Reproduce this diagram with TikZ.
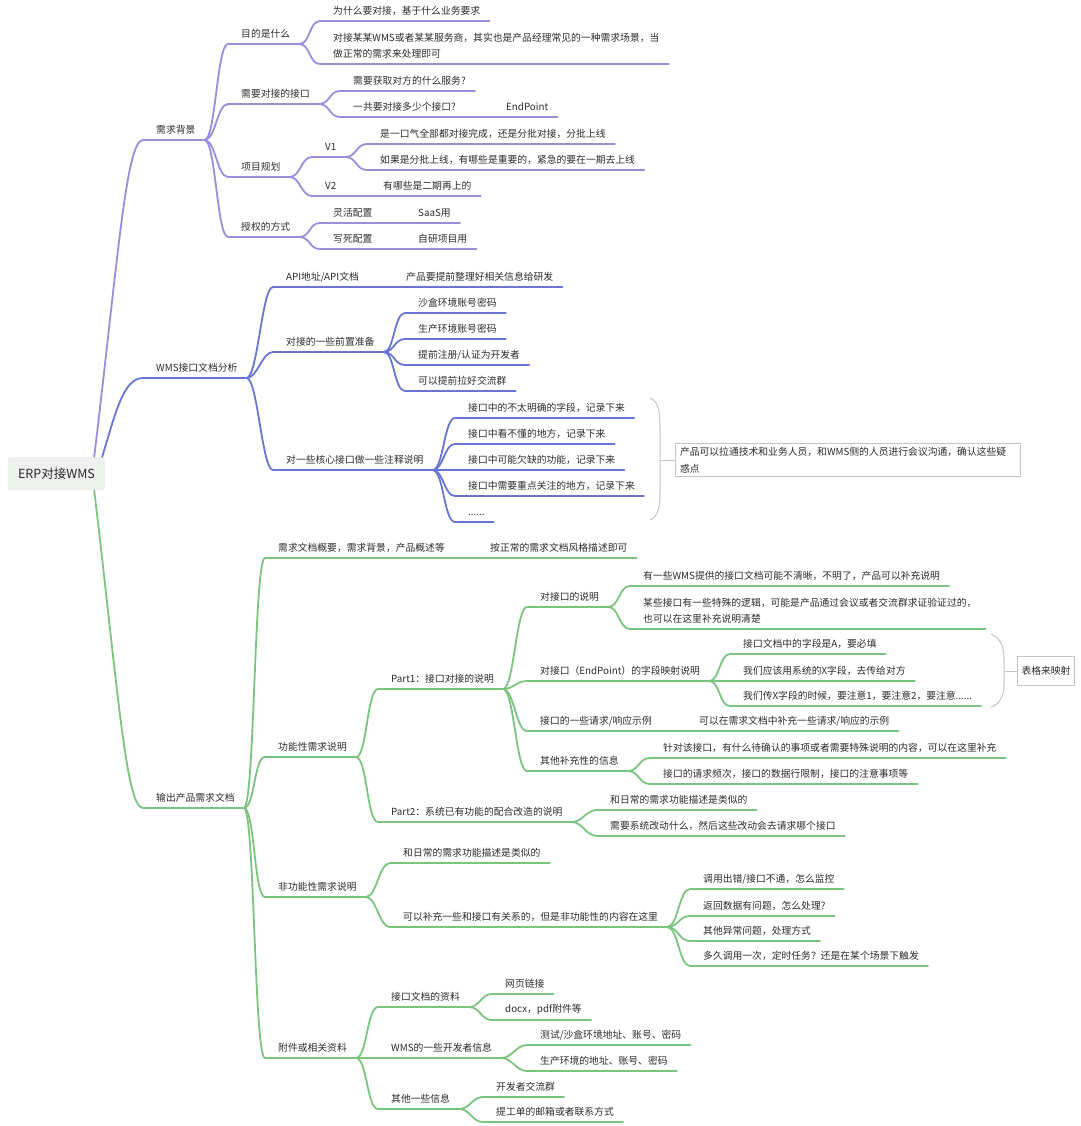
\documentclass[tikz,border=0pt]{standalone}
\usepackage{fontspec}
\setmainfont{Noto Sans CJK SC}
\definecolor{purpc}{HTML}{9B8CDC}
\definecolor{bluc}{HTML}{6676D2}
\definecolor{grnc}{HTML}{7BC47F}
\definecolor{txtc}{HTML}{2B2B2B}
\definecolor{rootc}{HTML}{EEF0EE}
\definecolor{bracec}{HTML}{C4C4C4}

\tikzset{
  purp/.style={draw=purpc, line width=1.8pt, line cap=round},
  blu/.style={draw=bluc, line width=1.8pt, line cap=round},
  grn/.style={draw=grnc, line width=1.8pt, line cap=round},
  topic/.style={anchor=south west, inner xsep=0pt, inner ysep=5pt, text=txtc,
    align=left, font=\fontsize{9.8}{16}\selectfont,
    execute at begin node=\rule[-1.2pt]{0pt}{9pt}\hspace*{13pt},
    execute at end node=\hspace*{9pt},
    append after command={(\tikzlastnode.south west) edge[#1] (\tikzlastnode.south east)}},
  link/.style={out=0, in=180, distance=11pt},
  rootbox/.style={fill=rootc, rounded corners=2pt, minimum width=97pt,
    minimum height=33pt, text=txtc, font=\fontsize{12.5}{15}\selectfont},
  note/.style={draw=bracec, fill=white, line width=0.8pt, text=txtc, align=left,
    inner xsep=5pt, font=\fontsize{9.8}{16.5}\selectfont},
  brace/.style={draw=bracec, line width=1pt},
}

\begin{document}
\begin{tikzpicture}[x=1pt,y=-1pt]
\useasboundingbox (0,0) rectangle (1080,1126);

% Mitte
\node[rootbox] (erp) at (56.5,473.5) {ERP对接WMS};

% ---- 需求背景 ----
\node[topic=purp] (bg) at (143,140) {需求背景};
\node[topic=purp] (bg1) at (228,44) {目的是什么};
\node[topic=purp] (bg11) at (320,21) {为什么要对接，基于什么业务要求};
\node[topic=purp] (bg12) at (320,64) {对接某某WMS或者某某服务商，其实也是产品经理常见的一种需求场景，当\\做正常的需求来处理即可};
\node[topic=purp] (bg2) at (228,104) {需要对接的接口};
\node[topic=purp] (bg21) at (340,91) {需要获取对方的什么服务?};
\node[topic=purp] (bg22) at (340,117) {\makebox[153pt][l]{一共要对接多少个接口?}EndPoint};
\node[topic=purp] (bg3) at (228,177) {项目规划};
\node[topic=purp] (bg31) at (312,157) {V1};
\node[topic=purp] (bg311) at (367,144) {是一口气全部都对接完成，还是分批对接，分批上线};
\node[topic=purp] (bg312) at (367,170) {如果是分批上线，有哪些是重要的，紧急的要在一期去上线};
\node[topic=purp] (bg32) at (312,196) {\makebox[58pt][l]{V2}有哪些是二期再上的};
\node[topic=purp] (bg4) at (228,237) {授权的方式};
\node[topic=purp] (bg41) at (320,223) {\makebox[85pt][l]{灵活配置}SaaS用};
\node[topic=purp] (bg42) at (320,249) {\makebox[85pt][l]{写死配置}自研项目用};

\draw[purp] ([xshift=-11pt]erp.north east) .. controls (118,260) and (126,140) .. (bg.south west);
\foreach \c in {bg1,bg2,bg3,bg4} \draw[purp] (bg.south east) to[link] (\c.south west);
\foreach \c in {bg11,bg12} \draw[purp] (bg1.south east) to[link] (\c.south west);
\foreach \c in {bg21,bg22} \draw[purp] (bg2.south east) to[link] (\c.south west);
\foreach \c in {bg31,bg32} \draw[purp] (bg3.south east) to[link] (\c.south west);
\foreach \c in {bg311,bg312} \draw[purp] (bg31.south east) to[link] (\c.south west);
\foreach \c in {bg41,bg42} \draw[purp] (bg4.south east) to[link] (\c.south west);

% ---- WMS接口文档分析 ----
\node[topic=blu] (wms) at (143,378) {WMS接口文档分析};
\node[topic=blu] (wms1) at (273,287) {\makebox[120pt][l]{API地址/API文档}产品要提前整理好相关信息给研发};
\node[topic=blu] (wms2) at (273,352) {对接的一些前置准备};
\node[topic=blu] (wms21) at (405,313) {沙盒环境账号密码};
\node[topic=blu] (wms22) at (405,339) {生产环境账号密码};
\node[topic=blu] (wms23) at (405,365) {提前注册/认证为开发者};
\node[topic=blu] (wms24) at (405,391) {可以提前拉好交流群};
\node[topic=blu] (wms3) at (273,470) {对一些核心接口做一些注释说明};
\node[topic=blu] (wms31) at (455,418) {接口中的不太明确的字段，记录下来};
\node[topic=blu] (wms32) at (455,444) {接口中看不懂的地方，记录下来};
\node[topic=blu] (wms33) at (455,470) {接口中可能欠缺的功能，记录下来};
\node[topic=blu] (wms34) at (455,496) {接口中需要重点关注的地方，记录下来};
\node[topic=blu] (wms35) at (455,522) {......};

\draw[blu] ([xshift=-3pt]erp.north east) .. controls (115,415) and (123,378) .. (wms.south west);
\foreach \c in {wms1,wms2,wms3} \draw[blu] (wms.south east) to[link] (\c.south west);
\foreach \c in {wms21,wms22,wms23,wms24} \draw[blu] (wms2.south east) to[link] (\c.south west);
\foreach \c in {wms31,wms32,wms33,wms34,wms35} \draw[blu] (wms3.south east) to[link] (\c.south west);

% Klammer + Notiz
\node[note, text width=335pt] (n1) at (847.5,460) {产品可以拉通技术和业务人员，和WMS侧的人员进行会议沟通，确认这些疑\\惑点};
\draw[brace] (650,398) .. controls (659,402) and (660,412) .. (660,428) -- (660,490) .. controls (660,506) and (659,516) .. (650,520);
\coordinate (b1) at (660,460);
\draw[brace] (b1) -- (n1.west);

% ---- 输出产品需求文档 ----
\node[topic=grn] (doc) at (143,808) {输出产品需求文档};
\node[topic=grn] (doc1) at (265,558) {\makebox[212pt][l]{需求文档概要，需求背景，产品概述等}按正常的需求文档风格描述即可};
\node[topic=grn] (doc2) at (265,757) {功能性需求说明};
\node[topic=grn] (p1) at (378,689) {Part1：接口对接的说明};
\node[topic=grn] (p11) at (527,607) {对接口的说明};
\node[topic=grn] (p111) at (630,586) {有一些WMS提供的接口文档可能不清晰，不明了，产品可以补充说明};
\node[topic=grn] (p112) at (630,629) {某些接口有一些特殊的逻辑，可能是产品通过会议或者交流群求证验证过的，\\也可以在这里补充说明清楚};
\node[topic=grn] (p12) at (527,681) {对接口（EndPoint）的字段映射说明};
\node[topic=grn] (p121) at (730,654) {接口文档中的字段是A，要必填};
\node[topic=grn] (p122) at (730,681) {我们应该用系统的X字段，去传给对方};
\node[topic=grn] (p123) at (730,706) {我们传X字段的时候，要注意1，要注意2，要注意......};
\node[topic=grn] (p13) at (527,731) {\makebox[159pt][l]{接口的一些请求/响应示例}可以在需求文档中补充一些请求/响应的示例};
\node[topic=grn] (p14) at (527,771) {其他补充性的信息};
\node[topic=grn] (p141) at (650,758) {针对该接口，有什么待确认的事项或者需要特殊说明的内容，可以在这里补充};
\node[topic=grn] (p142) at (650,784) {接口的请求频次，接口的数据行限制，接口的注意事项等};
\node[topic=grn] (p2) at (378,822) {Part2：系统已有功能的配合改造的说明};
\node[topic=grn] (p21) at (597,810) {和日常的需求功能描述是类似的};
\node[topic=grn] (p22) at (597,836) {需要系统改动什么，然后这些改动会去请求哪个接口};
\node[topic=grn] (doc3) at (265,897) {非功能性需求说明};
\node[topic=grn] (nf1) at (390,863) {和日常的需求功能描述是类似的};
\node[topic=grn] (nf2) at (390,927) {可以补充一些和接口有关系的，但是非功能性的内容在这里};
\node[topic=grn] (nf21) at (690,889) {调用出错/接口不通，怎么监控};
\node[topic=grn] (nf22) at (690,916) {返回数据有问题，怎么处理?};
\node[topic=grn] (nf23) at (690,941) {其他异常问题，处理方式};
\node[topic=grn] (nf24) at (690,966) {多久调用一次，定时任务？还是在某个场景下触发};
\node[topic=grn] (doc4) at (265,1058) {附件或相关资料};
\node[topic=grn] (at1) at (378,1007) {接口文档的资料};
\node[topic=grn] (at11) at (492,994) {网页链接};
\node[topic=grn] (at12) at (492,1020) {docx，pdf附件等};
\node[topic=grn] (at2) at (378,1058) {WMS的一些开发者信息};
\node[topic=grn] (at21) at (527,1045) {测试/沙盒环境地址、账号、密码};
\node[topic=grn] (at22) at (527,1071) {生产环境的地址、账号、密码};
\node[topic=grn] (at3) at (378,1109) {其他一些信息};
\node[topic=grn] (at31) at (483,1097) {开发者交流群};
\node[topic=grn] (at32) at (483,1122) {提工单的邮箱或者联系方式};

\draw[grn] ([xshift=-11pt]erp.south east) .. controls (118,690) and (126,808) .. (doc.south west);
\foreach \c in {doc1,doc2,doc3,doc4} \draw[grn] (doc.south east) to[link] (\c.south west);
\foreach \c in {p1,p2} \draw[grn] (doc2.south east) to[link] (\c.south west);
\foreach \c in {p11,p12,p13,p14} \draw[grn] (p1.south east) to[link] (\c.south west);
\foreach \c in {p111,p112} \draw[grn] (p11.south east) to[link] (\c.south west);
\foreach \c in {p121,p122,p123} \draw[grn] (p12.south east) to[link] (\c.south west);
\foreach \c in {p141,p142} \draw[grn] (p14.south east) to[link] (\c.south west);
\foreach \c in {p21,p22} \draw[grn] (p2.south east) to[link] (\c.south west);
\foreach \c in {nf1,nf2} \draw[grn] (doc3.south east) to[link] (\c.south west);
\foreach \c in {nf21,nf22,nf23,nf24} \draw[grn] (nf2.south east) to[link] (\c.south west);
\foreach \c in {at1,at2,at3} \draw[grn] (doc4.south east) to[link] (\c.south west);
\foreach \c in {at11,at12} \draw[grn] (at1.south east) to[link] (\c.south west);
\foreach \c in {at21,at22} \draw[grn] (at2.south east) to[link] (\c.south west);
\foreach \c in {at31,at32} \draw[grn] (at3.south east) to[link] (\c.south west);

% Klammer + Tabelle
\node[note, inner xsep=4pt, minimum height=29pt] (n2) at (1046,671) {表格来映射};
\draw[brace] (991,634) .. controls (1000,638) and (1004,646) .. (1004,658) -- (1004,684) .. controls (1004,696) and (1000,704) .. (991,707);
\coordinate (b2) at (1004,671);
\draw[brace] (b2) -- (n2.west);

\end{tikzpicture}
\end{document}
